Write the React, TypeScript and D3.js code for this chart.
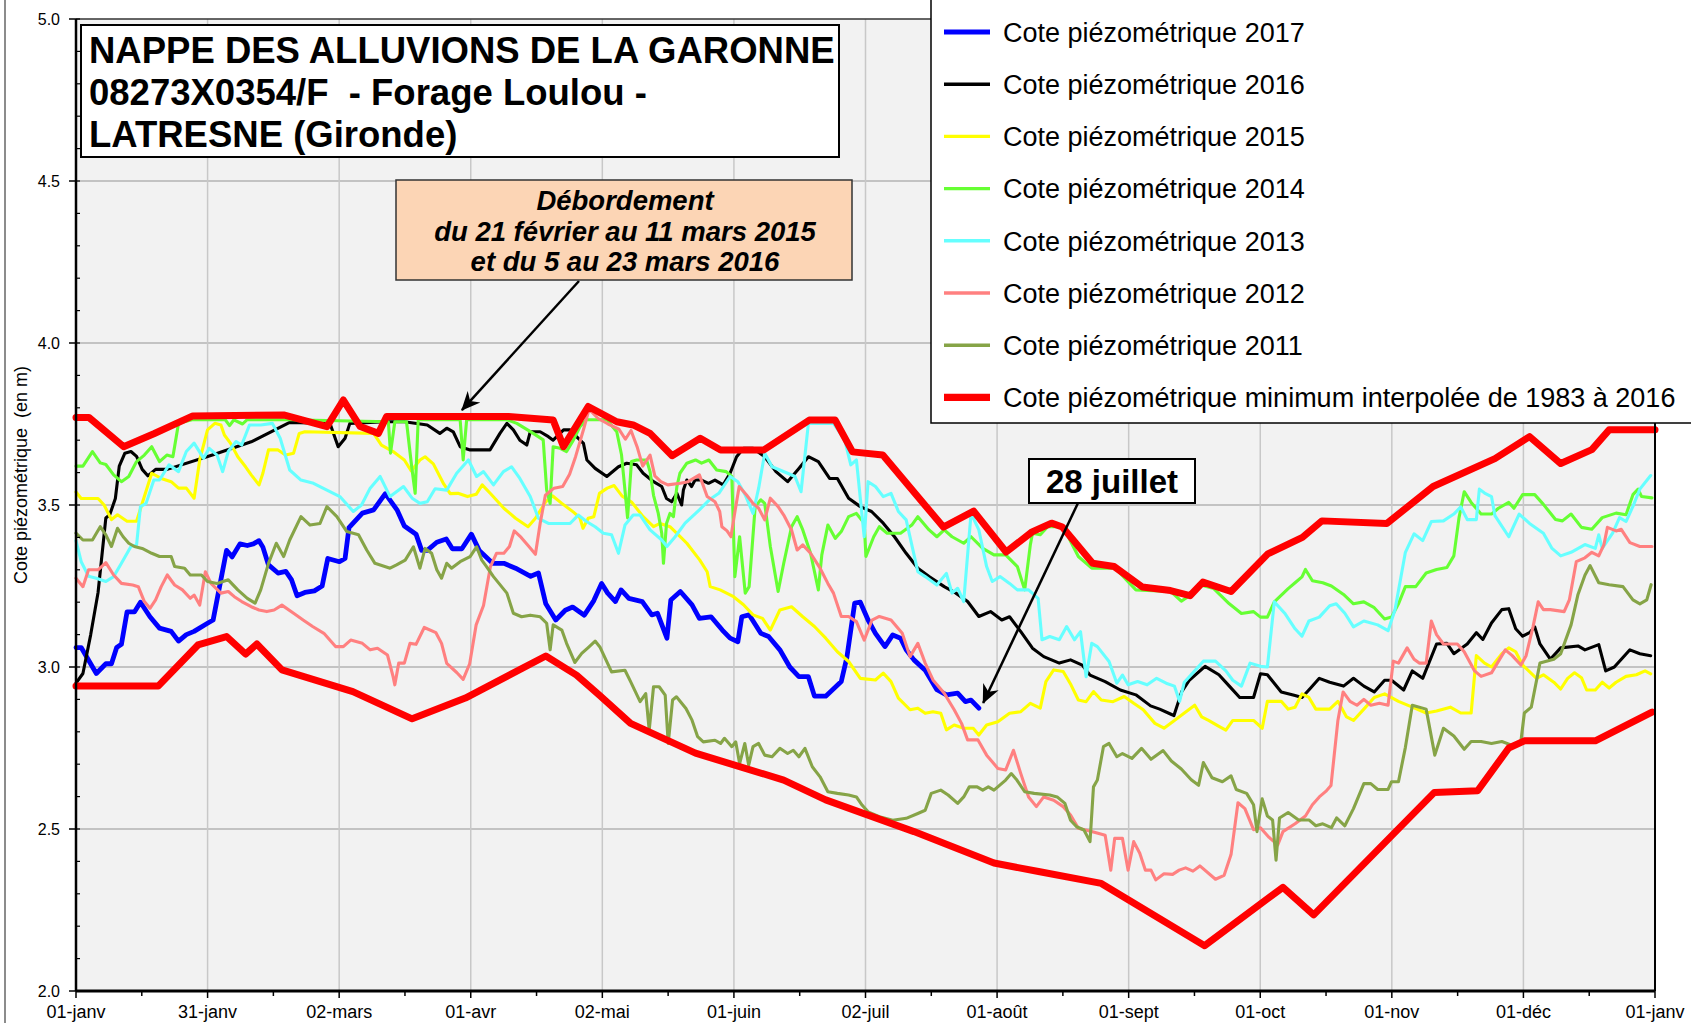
import * as d3 from 'd3';
import React, { useEffect, useRef } from 'react';

type Pt = [number, number];

// x = day of year (0..365), y = cote piézométrique (m)
const monthLabels = ['01-janv', '31-janv', '02-mars', '01-avr', '02-mai', '01-juin', '02-juil', '01-août', '01-sept', '01-oct', '01-nov', '01-déc', '01-janv'];
const yTickValues = [2.0, 2.5, 3.0, 3.5, 4.0, 4.5, 5.0];

const titleLines = ['NAPPE DES ALLUVIONS DE LA GARONNE', '08273X0354/F  - Forage Loulou -', 'LATRESNE (Gironde)'];
const overflowLines = ['Débordement', 'du 21 février au 11 mars 2015', 'et du 5 au 23 mars 2016'];
const lastDayLabel = '28 juillet';

const cote2017: Pt[] = [[0,3.06],[1.2,3.06],[4.7,2.98],[6.9,3.01],[8.2,3.01],[9.4,3.06],[10.5,3.07],[11.8,3.17],[13.5,3.17],[14.9,3.2],[17.1,3.155],[19.3,3.12],[22,3.11],[23.7,3.08],[25.5,3.1],[27.3,3.11],[30.4,3.135],[31.7,3.145],[33.5,3.27],[34.8,3.36],[36.1,3.34],[37.9,3.38],[39.6,3.375],[41,3.38],[42.3,3.39],[43.2,3.37],[44.5,3.315],[46.7,3.29],[48.5,3.295],[49.8,3.27],[51.1,3.22],[52.9,3.23],[55.1,3.235],[56.9,3.25],[58.2,3.335],[60.9,3.325],[62.2,3.335],[63.1,3.43],[66.2,3.475],[68.8,3.485],[71.5,3.535],[74.2,3.485],[75.9,3.435],[78.6,3.41],[79.9,3.36],[81.2,3.36],[83.4,3.385],[85.6,3.395],[87,3.365],[89.2,3.365],[91.4,3.41],[93.2,3.36],[96.3,3.32],[98.9,3.32],[101.6,3.305],[105.1,3.28],[106.9,3.29],[108.6,3.195],[110.9,3.145],[113.1,3.175],[114.8,3.185],[117.5,3.16],[119.7,3.205],[121.5,3.258],[122.9,3.228],[124.7,3.202],[126,3.238],[127.8,3.212],[130.9,3.202],[133.1,3.161],[134.4,3.166],[136.6,3.089],[137.5,3.207],[139.7,3.233],[142.4,3.192],[144.1,3.15],[146.8,3.155],[149.4,3.114],[151.2,3.089],[153,3.078],[153.9,3.155],[155.6,3.161],[158.3,3.104],[160.1,3.094],[162.7,3.053],[165,3.0],[167.1,2.97],[169.3,2.97],[170.7,2.91],[173.3,2.91],[176.9,2.955],[178.2,3.03],[180,3.197],[181.3,3.2],[183.1,3.145],[184.8,3.104],[187,3.063],[188.8,3.099],[190.6,3.089],[191.9,3.053],[193.7,3.022],[196.3,2.99],[199,2.93],[201.2,2.914],[203.8,2.919],[205.6,2.893],[206.9,2.898],[208.7,2.873]];

const cote2016: Pt[] = [[0,2.95],[1.6,2.98],[3.4,3.1],[5.1,3.23],[6.9,3.46],[7.8,3.47],[9.1,3.52],[10,3.62],[11.3,3.66],[12.7,3.665],[14,3.65],[15.3,3.61],[16.6,3.59],[18.4,3.61],[21.1,3.61],[31.7,3.655],[40.5,3.695],[49.4,3.755],[58.7,3.752],[60.6,3.68],[62.2,3.706],[63.3,3.752],[71.5,3.757],[75.9,3.757],[81.2,3.747],[84.1,3.721],[85.7,3.737],[87.2,3.726],[88.8,3.68],[91.1,3.67],[95.7,3.67],[98,3.721],[99.6,3.752],[101.1,3.732],[102.6,3.7],[104.2,3.685],[105,3.726],[107.3,3.726],[109.2,3.711],[110.3,3.7],[112.7,3.732],[114.2,3.732],[115.7,3.711],[117.3,3.69],[118.1,3.639],[120,3.613],[122.7,3.588],[125.4,3.618],[127.3,3.629],[129.6,3.624],[131.1,3.598],[133.5,3.572],[135.4,3.557],[136.5,3.52],[137.7,3.51],[138.9,3.536],[140,3.5],[140.4,3.546],[141.2,3.577],[142.3,3.557],[143.1,3.577],[144.6,3.577],[146.2,3.567],[147.7,3.577],[149.6,3.562],[151.2,3.598],[152.7,3.649],[154.3,3.675],[156.5,3.675],[159.2,3.649],[161.8,3.603],[164.5,3.572],[167.1,3.613],[169.3,3.649],[171.6,3.634],[174.2,3.582],[176,3.582],[178.6,3.521],[181.3,3.495],[183.9,3.48],[186.6,3.444],[189.2,3.402],[191.9,3.351],[194.6,3.305],[197.2,3.279],[200.7,3.248],[203.4,3.228],[206.1,3.202],[208.7,3.156],[211.4,3.171],[214,3.145],[215.8,3.155],[218.4,3.109],[221.1,3.058],[223.7,3.032],[227.3,3.012],[229.9,3.022],[232.6,3.006],[234.4,2.975],[237.9,2.955],[241.4,2.929],[245,2.914],[248.4,2.88],[250.5,2.87],[253,2.855],[253.8,2.85],[255.6,2.924],[257.4,2.96],[261,3.002],[264.2,2.976],[266.6,2.941],[269,2.906],[272.2,2.906],[273.8,2.979],[275.4,2.976],[278.6,2.923],[281.8,2.912],[283.4,2.906],[285.4,2.935],[287.4,2.965],[289.8,2.953],[293,2.941],[295.3,2.965],[297.7,2.941],[300.1,2.923],[302.5,2.959],[304.1,2.959],[306.9,2.929],[308.9,2.988],[311.3,2.965],[314.5,3.071],[316.9,3.073],[318.5,3.041],[321.6,3.071],[323.7,3.106],[325.2,3.085],[327.2,3.136],[329.6,3.177],[331.2,3.18],[332.8,3.118],[334.4,3.095],[336,3.106],[337.2,3.124],[338.4,3.071],[340.8,3.024],[343.2,3.059],[347.2,3.065],[348.8,3.053],[352,3.069],[353.6,2.988],[355.6,3.0],[359.2,3.053],[361.5,3.041],[364,3.035]];

const cote2015: Pt[] = [[0,3.54],[1.2,3.52],[5.1,3.52],[6.5,3.5],[8.2,3.455],[9.6,3.47],[11.8,3.45],[14,3.45],[15.8,3.526],[17.5,3.598],[19.7,3.582],[22,3.572],[23.7,3.552],[25.5,3.552],[27.3,3.521],[28.6,3.639],[30.4,3.732],[32.1,3.752],[33.5,3.747],[34.3,3.716],[35.7,3.691],[37.4,3.649],[39.2,3.618],[40.5,3.593],[42.3,3.562],[43.2,3.598],[44.5,3.67],[46.7,3.67],[48.5,3.654],[50.3,3.66],[51.6,3.721],[52.9,3.726],[68.8,3.721],[70.6,3.685],[73.3,3.665],[75.9,3.639],[77.5,3.605],[79.5,3.639],[80.7,3.649],[82.6,3.627],[85,3.565],[86.5,3.535],[88.3,3.536],[90.5,3.526],[92.5,3.533],[93.9,3.562],[95.9,3.534],[98.9,3.49],[101.6,3.459],[104.5,3.433],[106.2,3.459],[108.6,3.51],[110.2,3.528],[112.3,3.505],[115,3.478],[116.5,3.46],[117.2,3.428],[118.4,3.459],[119.7,3.464],[121,3.536],[122.8,3.552],[124.4,3.56],[126.2,3.528],[128.5,3.508],[131.1,3.464],[133.5,3.433],[135,3.443],[137.3,3.433],[139.6,3.403],[141.2,3.382],[144.2,3.33],[145.9,3.294],[146.6,3.248],[148.9,3.238],[152,3.217],[154.3,3.192],[156.5,3.161],[158.7,3.15],[160.5,3.114],[162.7,3.176],[165.4,3.186],[168,3.155],[170.7,3.125],[173.3,3.089],[176,3.047],[178.6,3.017],[181.3,2.965],[184.8,2.96],[186.6,2.981],[188.4,2.955],[190.1,2.904],[192.8,2.868],[194.6,2.873],[196.3,2.857],[198.1,2.862],[199.9,2.857],[201.2,2.806],[203,2.821],[205.2,2.811],[207.4,2.811],[208.7,2.79],[210.5,2.821],[213.1,2.831],[215.8,2.857],[218.4,2.862],[220.6,2.888],[222.9,2.873],[224.2,2.955],[226,2.991],[228.2,2.986],[230,2.945],[231.7,2.898],[233.5,2.893],[235.2,2.924],[237,2.898],[239.7,2.893],[242.3,2.909],[244.5,2.888],[246.7,2.868],[249.4,2.826],[251.5,2.811],[253.9,2.835],[256.2,2.858],[258.6,2.882],[260.2,2.846],[261.8,2.835],[264.2,2.817],[265.8,2.805],[267.4,2.835],[272.2,2.835],[274.2,2.811],[275.4,2.894],[278.6,2.894],[280.2,2.87],[281.8,2.876],[283.4,2.917],[285,2.906],[286.6,2.87],[289.8,2.87],[291.7,2.894],[293.7,2.846],[295.3,2.835],[297.7,2.87],[300.1,2.906],[302.5,2.917],[305.7,2.894],[308.9,2.876],[312.1,2.858],[314.5,2.864],[317.7,2.876],[320.1,2.858],[322.5,2.858],[323.7,3.035],[325.6,3.012],[327.2,3.0],[329.6,3.041],[331.2,3.059],[332.8,3.047],[334.4,3.006],[337.6,2.965],[339.2,2.976],[341.6,2.953],[343.2,2.932],[344.8,2.965],[346.4,2.982],[348,2.967],[349.2,2.929],[351.2,2.929],[352.8,2.953],[354.4,2.935],[356,2.953],[358.3,2.971],[360.7,2.976],[362.7,2.988],[364,2.979]];

const cote2014: Pt[] = [[0,3.62],[1.6,3.62],[3.8,3.665],[5.6,3.63],[6.9,3.625],[8.7,3.593],[10.5,3.572],[12.2,3.588],[14,3.634],[15.8,3.654],[17.5,3.68],[19.3,3.634],[21,3.654],[22.4,3.649],[23.7,3.752],[26.8,3.763],[34.5,3.763],[35.5,3.745],[36.5,3.763],[38.5,3.75],[39.5,3.763],[49.4,3.763],[72.2,3.757],[72.7,3.66],[73.7,3.757],[76.4,3.757],[77.6,3.618],[78.4,3.536],[79.1,3.763],[88.8,3.763],[89.5,3.639],[90.3,3.763],[99.6,3.763],[101.9,3.752],[105.7,3.721],[108,3.701],[108.8,3.546],[109.6,3.505],[110.3,3.68],[111.9,3.675],[113.4,3.665],[115,3.701],[116.5,3.742],[118,3.763],[122.7,3.763],[125,3.726],[126.1,3.655],[126.9,3.546],[127.5,3.46],[128.4,3.634],[129.6,3.639],[131.9,3.639],[132.7,3.603],[133.5,3.53],[134.6,3.474],[135.4,3.413],[135.8,3.32],[136.5,3.443],[137.3,3.474],[138.1,3.464],[138.9,3.557],[139.6,3.598],[141.2,3.629],[143.2,3.639],[144.6,3.629],[146.3,3.639],[148.1,3.608],[150.3,3.603],[151.6,3.588],[152.3,3.279],[153.4,3.402],[154.7,3.228],[155.6,3.248],[157,3.495],[158.3,3.516],[159.2,3.505],[160.5,3.372],[162.3,3.233],[163.6,3.32],[165.4,3.433],[166.7,3.464],[168,3.423],[169.8,3.351],[171.6,3.238],[172.4,3.346],[173.8,3.438],[175.5,3.397],[176.9,3.418],[178.6,3.464],[180.4,3.474],[182.2,3.444],[182.6,3.341],[184.4,3.402],[185.7,3.433],[187.5,3.413],[190.6,3.413],[193.2,3.438],[194.6,3.464],[197.2,3.423],[199,3.402],[200.7,3.423],[202.5,3.402],[205.2,3.382],[206.9,3.402],[209.6,3.366],[212.2,3.346],[214.9,3.346],[217.6,3.31],[219.3,3.238],[220.6,3.377],[221.1,3.413],[222.9,3.408],[224.6,3.433],[228.2,3.433],[231.7,3.341],[234.8,3.305],[240.1,3.305],[241.4,3.289],[245,3.238],[253.1,3.233],[255.5,3.203],[257.8,3.224],[260.2,3.252],[263,3.242],[266.6,3.195],[269.4,3.165],[272.2,3.171],[273.8,3.154],[275.4,3.154],[277,3.201],[280.2,3.242],[281.8,3.26],[283.4,3.278],[284.2,3.301],[285.8,3.266],[288.2,3.26],[290.2,3.25],[293,3.224],[295.3,3.195],[297.7,3.201],[300.1,3.183],[302.5,3.148],[304.1,3.154],[305.7,3.195],[307.3,3.248],[309.7,3.248],[312.1,3.29],[314.5,3.301],[316.9,3.307],[318.5,3.343],[319.7,3.461],[320.9,3.541],[322.5,3.508],[324.8,3.472],[327.2,3.472],[328.8,3.49],[331.2,3.508],[332.4,3.49],[334.4,3.532],[337.2,3.532],[339.2,3.502],[342,3.455],[343.6,3.451],[345.6,3.472],[348,3.431],[350.4,3.425],[352.8,3.461],[356,3.475],[358.3,3.47],[359.9,3.532],[361.1,3.549],[361.9,3.526],[364.3,3.522]];

const cote2013: Pt[] = [[0,3.39],[1.2,3.325],[2.9,3.28],[4.7,3.274],[6.9,3.264],[8.7,3.279],[10.5,3.32],[12.7,3.372],[14,3.377],[14.9,3.495],[16.2,3.505],[18,3.577],[19.3,3.577],[21.5,3.624],[23.7,3.603],[25.5,3.665],[27.3,3.691],[29.5,3.644],[30.8,3.675],[32.6,3.654],[33.9,3.603],[35.2,3.665],[37,3.696],[38.3,3.685],[40.1,3.747],[42.7,3.747],[45.4,3.752],[47.2,3.706],[49.4,3.608],[52,3.577],[54.9,3.567],[58,3.546],[61,3.526],[64.1,3.48],[66,3.5],[68,3.552],[70.3,3.588],[72.6,3.526],[75.7,3.557],[77.7,3.521],[79.5,3.505],[81.2,3.51],[83,3.55],[85.7,3.546],[88,3.598],[90.7,3.639],[92.6,3.588],[94.2,3.603],[96.5,3.562],[98.8,3.603],[100.7,3.618],[102.6,3.582],[105,3.526],[106.9,3.459],[109.2,3.443],[114.2,3.443],[116.1,3.469],[118,3.449],[120,3.433],[121.9,3.413],[123.8,3.408],[125.4,3.351],[126.9,3.438],[128.8,3.469],[130.4,3.469],[132.7,3.423],[135.4,3.392],[136.6,3.372],[138.5,3.402],[140.8,3.444],[144.1,3.485],[146.4,3.516],[148.6,3.536],[151.2,3.588],[153,3.572],[154.7,3.531],[156.5,3.474],[157.8,3.552],[159.2,3.66],[160.9,3.618],[162.7,3.608],[164.5,3.598],[166.2,3.588],[167.6,3.541],[169.3,3.752],[175.1,3.752],[177.7,3.701],[179.1,3.624],[180.4,3.639],[182.2,3.402],[183.1,3.572],[184.8,3.557],[186.6,3.526],[188.4,3.536],[190.1,3.48],[191.9,3.454],[194.6,3.294],[196.3,3.279],[199,3.253],[201.2,3.289],[202.5,3.228],[203.8,3.243],[205.2,3.202],[206.9,3.474],[208.7,3.423],[210.5,3.31],[211.8,3.264],[213.6,3.279],[215.8,3.258],[217.6,3.238],[220.2,3.238],[222.4,3.212],[223.3,3.084],[225.1,3.094],[227.3,3.084],[229,3.125],[230.8,3.084],[232.2,3.109],[233.5,2.97],[234.8,3.073],[236.1,3.063],[238.8,3.017],[240.6,2.95],[241.9,2.975],[243.2,2.945],[245.4,2.955],[247.6,2.945],[249.8,2.965],[252,2.95],[253.9,2.941],[255.1,2.894],[256.2,2.953],[258.6,2.988],[260.6,3.018],[263.4,3.018],[265.8,2.988],[267.4,2.959],[269.4,2.941],[271.4,3.012],[273.8,3.002],[275.4,3.0],[277,3.201],[279.4,3.166],[281.8,3.118],[283.4,3.095],[285,3.142],[287.4,3.154],[289.8,3.189],[291.3,3.195],[293.3,3.166],[295.3,3.124],[297.7,3.142],[300.9,3.13],[303.3,3.112],[304.9,3.177],[307.3,3.354],[309.3,3.411],[311.3,3.39],[313.3,3.449],[316.1,3.451],[318.5,3.472],[320.1,3.494],[321.6,3.455],[323.7,3.455],[324.4,3.549],[325.6,3.537],[327.2,3.526],[328,3.467],[331.2,3.402],[333.6,3.472],[336,3.443],[339.2,3.413],[341.2,3.366],[343.2,3.343],[345.6,3.354],[348.8,3.378],[351.2,3.366],[352,3.408],[352.8,3.366],[355.2,3.413],[356.8,3.461],[358.3,3.449],[359.9,3.496],[361.5,3.549],[364,3.591]];

const cote2012: Pt[] = [[0,3.274],[1.6,3.248],[2.9,3.3],[5.1,3.3],[6.9,3.322],[8.7,3.284],[10.5,3.258],[13.1,3.253],[14.4,3.248],[15.8,3.202],[17.1,3.181],[18.4,3.207],[19.7,3.248],[21.1,3.284],[22.8,3.253],[24.6,3.238],[26.4,3.212],[27.3,3.222],[28.6,3.191],[29.9,3.294],[31.2,3.258],[33.5,3.228],[35.2,3.233],[36.6,3.217],[38.3,3.202],[40.5,3.186],[42.3,3.176],[44.1,3.171],[45.8,3.176],[47.6,3.191],[50.3,3.166],[52.5,3.145],[54.7,3.125],[57.3,3.104],[60,3.063],[61.8,3.063],[63.5,3.083],[66.2,3.073],[68,3.053],[69.7,3.058],[72,3.037],[73.3,2.97],[73.7,2.945],[74.6,3.012],[75.9,3.012],[77.2,3.073],[78.6,3.07],[80.5,3.122],[83.2,3.106],[84.5,3.073],[85.7,3.011],[88,2.983],[89.5,2.962],[91,3.01],[92.5,3.13],[94.2,3.19],[95.8,3.31],[97.2,3.351],[98.9,3.351],[100.2,3.372],[101.3,3.42],[102.9,3.4],[104.7,3.372],[106.2,3.348],[107.3,3.444],[108.5,3.53],[110.5,3.552],[112.5,3.557],[114.1,3.595],[115.5,3.65],[117.4,3.737],[118.6,3.796],[120.7,3.767],[123,3.75],[125.5,3.734],[127,3.703],[128.3,3.73],[129.7,3.68],[131,3.62],[132.7,3.654],[133.8,3.59],[135.2,3.572],[136.8,3.562],[139.7,3.567],[141.5,3.572],[144.1,3.593],[145.9,3.526],[147.7,3.51],[148.8,3.48],[149.3,3.433],[150.5,3.42],[151.4,3.402],[152.2,3.47],[153.3,3.557],[155,3.531],[156.5,3.505],[157.8,3.49],[159.2,3.454],[160.5,3.521],[162.3,3.495],[163.6,3.469],[165.4,3.423],[166.7,3.361],[168,3.377],[169.8,3.351],[172,3.305],[173.8,3.258],[175.1,3.228],[176.9,3.156],[178.6,3.156],[180.4,3.14],[182.2,3.083],[184,3.145],[185.7,3.156],[188.4,3.145],[191,3.104],[192.8,3.032],[194.6,3.073],[196.3,3.012],[198.1,2.96],[200.7,2.919],[203,2.868],[204.7,2.826],[206.1,2.775],[208.5,2.775],[210.5,2.728],[213.1,2.687],[214.9,2.682],[216.7,2.743],[218.4,2.671],[220.2,2.599],[222,2.569],[223.7,2.599],[226,2.589],[228.2,2.569],[229.9,2.543],[231.7,2.502],[235.2,2.491],[237.9,2.481],[239.2,2.373],[240.1,2.471],[241.9,2.471],[243.2,2.373],[244.5,2.461],[245.9,2.425],[247.2,2.373],[248.5,2.373],[249.6,2.343],[251.5,2.362],[253.5,2.36],[255,2.373],[256.5,2.38],[258.2,2.37],[259.8,2.386],[263.4,2.345],[265.4,2.357],[267,2.421],[268.6,2.581],[270.2,2.563],[272.2,2.498],[273.8,2.504],[275.8,2.474],[277.8,2.451],[279,2.492],[281.8,2.516],[284.2,2.54],[285.8,2.575],[287.4,2.599],[288.9,2.616],[290.1,2.634],[291.7,2.835],[292.9,2.923],[294.5,2.894],[296.1,2.882],[297.7,2.9],[299.3,2.882],[301.3,2.888],[303.3,2.882],[304.5,3.018],[305.7,3.012],[307.7,3.059],[309.3,3.024],[310.5,3.012],[312.1,3.012],[313.3,3.142],[314.5,3.1],[316.1,3.071],[319.3,3.071],[320.9,3.047],[323.3,2.988],[324.8,2.971],[327.2,2.982],[330.4,3.053],[332,3.035],[334,3.006],[335.2,3.035],[336.8,3.124],[338,3.201],[339.2,3.177],[340.8,3.177],[344,3.171],[345.2,3.207],[346.8,3.325],[348.8,3.337],[350.4,3.354],[352,3.343],[353.2,3.378],[354,3.431],[356,3.42],[357.2,3.425],[359.2,3.384],[361.5,3.372],[364.3,3.372]];

const cote2011: Pt[] = [[0,3.413],[1.6,3.392],[3.8,3.392],[5.6,3.433],[6.9,3.408],[8.2,3.372],[9.6,3.428],[10.9,3.402],[12.2,3.382],[13.5,3.372],[15.3,3.366],[17.5,3.351],[19.3,3.341],[22,3.341],[22.8,3.31],[25.1,3.305],[26.4,3.284],[29,3.284],[30.4,3.264],[32.6,3.258],[35.2,3.269],[37.4,3.238],[39.6,3.212],[41.4,3.197],[42.7,3.238],[44.5,3.32],[46.3,3.382],[48,3.341],[49.4,3.392],[52,3.464],[54.1,3.438],[56.4,3.443],[58,3.495],[60.3,3.464],[62.6,3.418],[65.3,3.408],[67.2,3.361],[69.1,3.32],[72.6,3.305],[74.1,3.315],[76.1,3.33],[78,3.371],[79.5,3.305],[80.7,3.366],[82.2,3.351],[83.4,3.3],[84.5,3.274],[85.7,3.32],[86.8,3.305],[88.8,3.325],[91.1,3.341],[92.6,3.371],[93.8,3.33],[94.9,3.31],[96.5,3.279],[99.6,3.228],[101.1,3.166],[103,3.155],[105,3.16],[107.3,3.155],[108.8,3.135],[109.6,3.053],[110.3,3.13],[112.3,3.114],[113.4,3.073],[115.3,3.014],[116.9,3.042],[118.4,3.06],[120,3.08],[121.1,3.062],[123.8,2.985],[126.9,2.99],[128.2,2.955],[130.4,2.893],[131.7,2.918],[132.5,2.805],[133.5,2.939],[134.8,2.939],[136.2,2.913],[136.9,2.764],[137.9,2.898],[138.8,2.908],[141,2.872],[142.4,2.836],[143.7,2.785],[145,2.769],[147.7,2.774],[149,2.764],[149.9,2.78],[151.6,2.754],[152.5,2.769],[153.4,2.702],[154.6,2.764],[155.5,2.697],[156.5,2.754],[157.8,2.764],[159.2,2.728],[160.9,2.723],[162.7,2.749],[164.5,2.733],[165.8,2.743],[167.1,2.723],[168.5,2.749],[170.2,2.692],[172,2.661],[173.8,2.615],[176,2.61],[178.6,2.605],[180.4,2.599],[181.7,2.574],[183.1,2.553],[185.7,2.538],[188.8,2.527],[191.9,2.533],[194.6,2.548],[196.3,2.558],[197.7,2.61],[199.9,2.62],[201.6,2.605],[203.8,2.579],[205.2,2.599],[206.5,2.63],[208.3,2.63],[209.6,2.62],[210.9,2.63],[212.2,2.62],[214.9,2.651],[216.2,2.671],[217.5,2.651],[219.3,2.615],[221.5,2.61],[225.1,2.605],[226.8,2.599],[228.6,2.579],[229.9,2.527],[231.3,2.507],[233,2.497],[234.4,2.461],[235.2,2.63],[236.1,2.651],[237.5,2.754],[238.8,2.764],[240.6,2.723],[241.9,2.733],[244.1,2.718],[246.3,2.749],[248.5,2.715],[251.3,2.742],[253.2,2.71],[255.5,2.685],[257.8,2.652],[259.5,2.635],[260.6,2.705],[262.6,2.658],[265,2.646],[267,2.664],[268.2,2.622],[270.6,2.61],[272.2,2.575],[273,2.492],[274.2,2.593],[275.4,2.54],[276.6,2.528],[277.4,2.404],[278.2,2.534],[280.2,2.551],[282.6,2.528],[285,2.528],[286.6,2.51],[288.2,2.516],[290.2,2.504],[291.4,2.534],[293.3,2.51],[295.3,2.563],[297.7,2.64],[299.3,2.64],[300.9,2.622],[303.3,2.622],[304.1,2.646],[305.7,2.646],[307.3,2.752],[308.9,2.882],[312.1,2.87],[314.1,2.728],[316.1,2.811],[318.5,2.787],[320.9,2.746],[322.5,2.77],[324.8,2.77],[327.2,2.764],[329.6,2.77],[332,2.758],[334,2.77],[334.8,2.858],[336.4,2.876],[338.4,3.012],[341.6,3.024],[343.2,3.041],[345.6,3.13],[347.2,3.224],[348.8,3.283],[350,3.313],[352,3.26],[354.4,3.254],[357.6,3.248],[359.9,3.207],[361.5,3.195],[363.1,3.207],[364.1,3.254]];

// min interpolée 1983-2016 (lower) and the upper envelope drawn with the same style
const coteMin: Pt[] = [[0,2.941],[19,2.941],[28.2,3.068],[34.8,3.094],[39.2,3.04],[41.8,3.071],[47.6,2.991],[64,2.924],[77.7,2.84],[90,2.904],[108.6,3.034],[115.7,2.975],[121.1,2.912],[128.2,2.826],[143.2,2.734],[163.6,2.651],[173.3,2.59],[193.7,2.492],[212.2,2.395],[222.8,2.368],[237,2.332],[260.9,2.14],[279,2.32],[286.1,2.235],[314,2.613],[324,2.618],[331.2,2.75],[334.8,2.772],[351.2,2.772],[364.3,2.861]];
const coteMax: Pt[] = [[0,3.77],[3,3.77],[11,3.68],[18,3.72],[27,3.775],[48,3.778],[58,3.742],[61.8,3.824],[65.7,3.742],[69.9,3.721],[71.8,3.773],[100,3.773],[110.3,3.762],[112.7,3.68],[118.4,3.804],[125,3.757],[128.8,3.747],[132.7,3.721],[137.8,3.652],[144.3,3.706],[149,3.67],[159,3.67],[169.5,3.762],[175.5,3.762],[179.5,3.664],[186.5,3.654],[200.5,3.432],[207.5,3.481],[215,3.355],[221,3.417],[225.5,3.444],[228,3.432],[235,3.32],[240,3.31],[246.5,3.247],[253,3.236],[257.5,3.22],[260.5,3.262],[267,3.233],[275.5,3.349],[283.5,3.4],[288,3.451],[303,3.443],[313.7,3.557],[328,3.643],[336,3.711],[343.2,3.628],[350.4,3.671],[354.4,3.732],[365,3.732]];

const seriesDefs = [
    { name: 'Cote piézométrique 2017', data: cote2017, color: '#0000ff', width: 4.8, legend: true },
    { name: 'Cote piézométrique 2016', data: cote2016, color: '#000000', width: 3.1, legend: true },
    { name: 'Cote piézométrique 2015', data: cote2015, color: '#ffff00', width: 3.1, legend: true },
    { name: 'Cote piézométrique 2014', data: cote2014, color: '#66ff33', width: 3.1, legend: true },
    { name: 'Cote piézométrique 2013', data: cote2013, color: '#66ffff', width: 3.1, legend: true },
    { name: 'Cote piézométrique 2012', data: cote2012, color: '#ff8080', width: 3.1, legend: true },
    { name: 'Cote piézométrique 2011', data: cote2011, color: '#86a447', width: 3.1, legend: true },
    { name: 'Cote piézométrique minimum interpolée de 1983 à 2016', data: coteMin, color: '#ff0000', width: 7, legend: true },
    { name: 'max', data: coteMax, color: '#ff0000', width: 7, legend: false },
];

const FONT = "'Liberation Sans', Arial, Helvetica, sans-serif";

const App = () => {
    const svgRef = useRef<SVGSVGElement | null>(null);
    const W = 1691;
    const H = 1023;
    const plot = { left: 76, right: 1655, top: 19, bottom: 991 };

    const x = d3.scaleLinear().domain([0, 365]).range([plot.left, plot.right]);
    const y = d3.scaleLinear().domain([2, 5]).range([plot.bottom, plot.top]);
    const monthDays = monthLabels.map((_, i) => (i * 365) / 12);

    useEffect(() => {
        document.body.style.margin = '0';
        const svg = d3.select(svgRef.current);
        svg.selectAll('*').remove();

        drawFrame(svg);
        drawGrid(svg);
        drawSeries(svg);
        drawAxes(svg);
        drawAnnotations(svg);
        drawLegend(svg);
    }, []);

    const drawFrame = (svg) => {
        svg.append('rect').attr('width', W).attr('height', H).attr('fill', '#ffffff');
        svg.append('line')
            .attr('x1', 5).attr('x2', 5).attr('y1', 0).attr('y2', H)
            .attr('stroke', '#8c8c8c').attr('stroke-width', 2);
        svg.append('rect')
            .attr('x', plot.left).attr('y', plot.top)
            .attr('width', plot.right - plot.left).attr('height', plot.bottom - plot.top)
            .attr('fill', '#f2f2f2');
    };

    const drawGrid = (svg) => {
        const g = svg.append('g');
        g.selectAll('.hgrid')
            .data(yTickValues.filter(v => v > 2 && v < 5))
            .enter().append('line')
            .attr('x1', plot.left).attr('x2', plot.right)
            .attr('y1', d => y(d)).attr('y2', d => y(d))
            .attr('stroke', '#c3c3c3').attr('stroke-width', 2);
        g.selectAll('.vgrid')
            .data(monthDays.slice(1, -1))
            .enter().append('line')
            .attr('x1', d => x(d)).attr('x2', d => x(d))
            .attr('y1', plot.top).attr('y2', plot.bottom)
            .attr('stroke', '#c8c8c8').attr('stroke-width', 1.5);
    };

    const drawSeries = (svg) => {
        const line = d3.line<Pt>().x(d => x(d[0])).y(d => y(d[1]));
        seriesDefs.forEach(s => {
            svg.append('path')
                .datum(s.data)
                .attr('fill', 'none')
                .attr('stroke', s.color)
                .attr('stroke-width', s.width)
                .attr('stroke-linejoin', 'round')
                .attr('stroke-linecap', 'round')
                .attr('d', line);
        });
    };

    const drawAxes = (svg) => {
        // plot border
        svg.append('line').attr('x1', plot.left).attr('x2', plot.right).attr('y1', plot.top).attr('y2', plot.top)
            .attr('stroke', '#333').attr('stroke-width', 1.5);
        svg.append('line').attr('x1', plot.right).attr('x2', plot.right).attr('y1', plot.top).attr('y2', plot.bottom)
            .attr('stroke', '#000').attr('stroke-width', 2);

        // y axis
        svg.append('line').attr('x1', plot.left).attr('x2', plot.left).attr('y1', plot.top).attr('y2', plot.bottom)
            .attr('stroke', '#000').attr('stroke-width', 2.5);
        const minorY = d3.range(2, 5.001, 0.1);
        svg.selectAll('.yminor').data(minorY).enter().append('line')
            .attr('x1', plot.left).attr('x2', plot.left + 4)
            .attr('y1', d => y(d)).attr('y2', d => y(d))
            .attr('stroke', '#000').attr('stroke-width', 1.2);
        svg.selectAll('.ymajor').data(yTickValues).enter().append('line')
            .attr('x1', plot.left - 7).attr('x2', plot.left)
            .attr('y1', d => y(d)).attr('y2', d => y(d))
            .attr('stroke', '#000').attr('stroke-width', 1.5);
        svg.selectAll('.ylabel').data(yTickValues).enter().append('text')
            .attr('x', 60).attr('y', d => y(d))
            .attr('dy', '0.36em')
            .attr('text-anchor', 'end')
            .style('font-family', FONT).style('font-size', '16px')
            .text(d => d.toFixed(1));

        svg.append('text')
            .attr('transform', `translate(27,475) rotate(-90)`)
            .attr('text-anchor', 'middle')
            .style('font-family', FONT).style('font-size', '18px')
            .style('white-space', 'pre')
            .text('Cote piézométrique  (en m)');

        // x axis
        svg.append('line').attr('x1', plot.left).attr('x2', plot.right).attr('y1', plot.bottom).attr('y2', plot.bottom)
            .attr('stroke', '#000').attr('stroke-width', 3);
        const minorX = monthDays.slice(0, -1).map(d => d + 365 / 24);
        svg.selectAll('.xminor').data(minorX).enter().append('line')
            .attr('x1', d => x(d)).attr('x2', d => x(d))
            .attr('y1', plot.bottom).attr('y2', plot.bottom + 5)
            .attr('stroke', '#000').attr('stroke-width', 1.5);
        svg.selectAll('.xmajor').data(monthDays).enter().append('line')
            .attr('x1', d => x(d)).attr('x2', d => x(d))
            .attr('y1', plot.bottom).attr('y2', plot.bottom + 7)
            .attr('stroke', '#000').attr('stroke-width', 1.5);
        svg.selectAll('.xlabel').data(monthLabels).enter().append('text')
            .attr('x', (d, i) => x(monthDays[i]))
            .attr('y', 1018)
            .attr('text-anchor', 'middle')
            .style('font-family', FONT).style('font-size', '18px')
            .text(d => d);
    };

    const drawAnnotations = (svg) => {
        const defs = svg.append('defs');
        defs.append('marker')
            .attr('id', 'arrow')
            .attr('viewBox', '0 0 10 10')
            .attr('refX', 9.5).attr('refY', 5)
            .attr('markerUnits', 'userSpaceOnUse')
            .attr('markerWidth', 19).attr('markerHeight', 19)
            .attr('orient', 'auto')
            .append('path').attr('d', 'M0,0.5 L10,5 L0,9.5 L3,5 Z').attr('fill', '#000');

        // title box
        svg.append('rect')
            .attr('x', 81).attr('y', 25).attr('width', 758).attr('height', 132)
            .attr('fill', '#fff').attr('stroke', '#000').attr('stroke-width', 2);
        svg.selectAll('.title').data(titleLines).enter().append('text')
            .attr('x', 89).attr('y', (d, i) => 63 + i * 42)
            .style('font-family', FONT).style('font-size', '36.5px').style('font-weight', 'bold')
            .style('white-space', 'pre')
            .text(d => d);

        // overflow annotation
        svg.append('line')
            .attr('x1', 579).attr('y1', 281)
            .attr('x2', x(89.2)).attr('y2', y(3.793))
            .attr('stroke', '#000').attr('stroke-width', 2.5)
            .attr('marker-end', 'url(#arrow)');
        svg.append('rect')
            .attr('x', 396).attr('y', 180).attr('width', 456).attr('height', 100)
            .attr('fill', '#fcd5b5').attr('stroke', '#333').attr('stroke-width', 1.5);
        svg.selectAll('.overflow').data(overflowLines).enter().append('text')
            .attr('x', 625).attr('y', (d, i) => 210 + i * 30.5)
            .attr('text-anchor', 'middle')
            .style('font-family', FONT).style('font-size', '27.5px')
            .style('font-weight', 'bold').style('font-style', 'italic')
            .text(d => d);

        // last measurement annotation
        svg.append('line')
            .attr('x1', 1078).attr('y1', 503)
            .attr('x2', x(209.7)).attr('y2', y(2.889))
            .attr('stroke', '#000').attr('stroke-width', 2.5)
            .attr('marker-end', 'url(#arrow)');
        svg.append('rect')
            .attr('x', 1029).attr('y', 459).attr('width', 166).attr('height', 44)
            .attr('fill', '#fff').attr('stroke', '#000').attr('stroke-width', 2);
        svg.append('text')
            .attr('x', 1112).attr('y', 493)
            .attr('text-anchor', 'middle')
            .style('font-family', FONT).style('font-size', '33px').style('font-weight', 'bold')
            .text(lastDayLabel);
    };

    const drawLegend = (svg) => {
        const items = seriesDefs.filter(s => s.legend);
        svg.append('rect')
            .attr('x', 931).attr('y', -5).attr('width', 800).attr('height', 428)
            .attr('fill', '#fff').attr('stroke', '#000').attr('stroke-width', 1.5);
        const row = svg.selectAll('.legend').data(items).enter().append('g')
            .attr('transform', (d, i) => `translate(0,${32 + i * 52.2})`);
        row.append('line')
            .attr('x1', 944).attr('x2', 990)
            .attr('stroke', d => d.color)
            .attr('stroke-width', d => d.width + 0.3);
        row.append('text')
            .attr('x', 1003).attr('dy', '0.36em')
            .style('font-family', FONT).style('font-size', '27px')
            .text(d => d.name);
    };

    return (
        <div style={{ position: 'absolute', left: 0, top: 0 }}>
            <svg ref={svgRef} width={W} height={H} style={{ display: 'block' }} />
        </div>
    );
};

export default App;
